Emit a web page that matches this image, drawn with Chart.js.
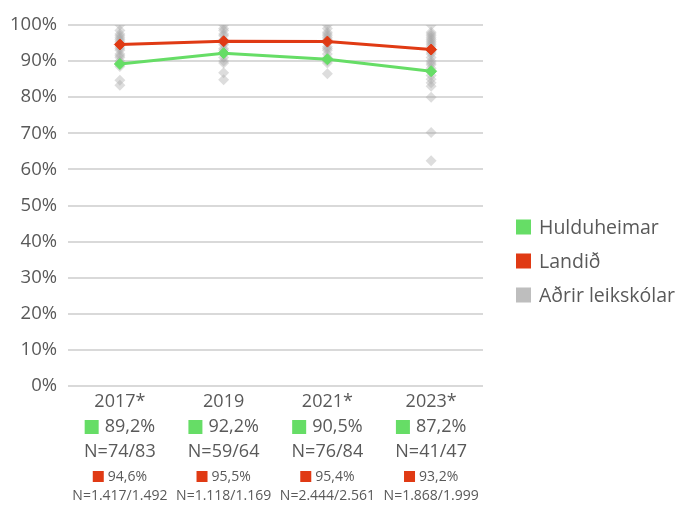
<!DOCTYPE html>
<html>
<head>
<meta charset="utf-8">
<script src="https://cdn.jsdelivr.net/npm/chart.js@4"></script>
<style>
  html, body { margin: 0; padding: 0; background: #fff; }
  #wrap { width: 678px; height: 507px; }
</style>
</head>
<body>
<div id="wrap"><canvas id="chart" width="678" height="507"></canvas></div>
<script>
// data
var years = ['2017*', '2019', '2021*', '2023*'];
var hulduheimar = [89.2, 92.2, 90.5, 87.2];
var hulduheimarN = ['74/83', '59/64', '76/84', '41/47'];
var landid = [94.6, 95.5, 95.4, 93.2];
var landidN = ['1.417/1.492', '1.118/1.169', '2.444/2.561', '1.868/1.999'];
var yTicks = [0, 10, 20, 30, 40, 50, 60, 70, 80, 90, 100];

// other preschools, one list per year
var adrir2017 = [100, 98.5, 97.5, 97, 96.5, 96, 95.5, 95, 94, 93.5, 93, 92, 91.5, 91, 90, 89.5, 88.5, 84.7, 83.3];
var adrir2019 = [100, 99, 98.5, 97.5, 97, 96, 95, 94.5, 93.5, 93, 92, 91, 90, 89.5, 86.8, 84.8];
var adrir2021 = [100, 99, 98, 97.5, 97, 96.5, 96, 95, 94, 93.5, 93, 92, 91, 90, 89.5, 86.5];
var adrir2023 = [100, 98, 97.5, 97, 96.5, 96, 95.5, 95, 94.5, 94, 93, 92.5, 92, 91, 90, 89.5, 89, 88, 87, 86, 85, 84, 83, 80, 70.2, 62.4];

var green = 'rgb(102,221,102)';
var red = 'rgb(224,58,20)';
var grey = 'rgba(165,165,165,0.38)';
var textColor = '#595959';
var font = '"Open Sans", Lato, sans-serif';

var adrirPoints = [];
[adrir2017, adrir2019, adrir2021, adrir2023].forEach(function (list, i) {
  list.forEach(function (v) {
    adrirPoints.push({ x: years[i], y: v });
  });
});

function pct(v) {
  return v.toFixed(1).replace('.', ',') + '%';
}

// labels under each year
var bottomLabels = {
  id: 'bottomLabels',
  afterDraw: function (chart) {
    var ctx = chart.ctx;
    var xs = chart.scales.x;
    ctx.save();
    ctx.textBaseline = 'middle';
    for (var i = 0; i < years.length; i++) {
      var x = xs.getPixelForTick(i);
      ctx.fillStyle = textColor;
      ctx.textAlign = 'center';
      ctx.font = '18px ' + font;
      ctx.fillText(years[i], x, 402);
      ctx.fillText('N=' + hulduheimarN[i], x, 452);

      // green value with square
      var t = pct(hulduheimar[i]);
      var w = ctx.measureText(t).width;
      var total = 14 + 6 + w;
      var left = x - total / 2;
      ctx.fillStyle = green;
      ctx.fillRect(left, 420, 14, 14);
      ctx.fillStyle = textColor;
      ctx.textAlign = 'left';
      ctx.fillText(t, left + 20, 427);

      // red value with square
      ctx.font = '14px ' + font;
      t = pct(landid[i]);
      w = ctx.measureText(t).width;
      total = 11 + 4 + w;
      left = x - total / 2;
      ctx.fillStyle = red;
      ctx.fillRect(left, 471, 11, 11);
      ctx.fillStyle = textColor;
      ctx.fillText(t, left + 15, 477);
      ctx.textAlign = 'center';
      ctx.fillText('N=' + landidN[i], x, 496);
    }
    ctx.restore();
  }
};

// legend on the right
var sideLegend = {
  id: 'sideLegend',
  afterDraw: function (chart) {
    var ctx = chart.ctx;
    var left = chart.chartArea.right + 33;
    ctx.save();
    ctx.font = '19.5px ' + font;
    ctx.textBaseline = 'middle';
    ctx.textAlign = 'left';
    chart.data.datasets.forEach(function (ds, i) {
      var y = 227 + i * 34;
      ctx.fillStyle = ds.legendColor;
      ctx.fillRect(left, y - 7.5, 15, 15);
      ctx.fillStyle = textColor;
      ctx.fillText(ds.label, left + 23, y + 1);
    });
    ctx.restore();
  }
};

new Chart(document.getElementById('chart').getContext('2d'), {
  type: 'line',
  data: {
    labels: years,
    datasets: [{
      label: 'Hulduheimar',
      data: hulduheimar,
      borderColor: green,
      backgroundColor: green,
      legendColor: green,
      borderWidth: 3,
      pointStyle: 'rectRot',
      pointRadius: 5.5,
      pointBorderWidth: 1,
      tension: 0
    }, {
      label: 'Landið',
      data: landid,
      borderColor: red,
      backgroundColor: red,
      legendColor: red,
      borderWidth: 3,
      pointStyle: 'rectRot',
      pointRadius: 5.5,
      pointBorderWidth: 1,
      tension: 0
    }, {
      label: 'Aðrir leikskólar',
      data: adrirPoints,
      showLine: false,
      backgroundColor: grey,
      borderColor: 'rgba(0,0,0,0)',
      legendColor: 'rgb(190,190,190)',
      pointStyle: 'rectRot',
      pointRadius: 5.5,
      pointBorderWidth: 0
    }]
  },
  options: {
    responsive: false,
    animation: false,
    layout: { padding: { top: 25, right: 195, left: 0, bottom: 0 } },
    plugins: {
      legend: { display: false },
      tooltip: { enabled: false }
    },
    scales: {
      x: {
        type: 'category',
        offset: true,
        grid: { display: false },
        border: { display: false },
        ticks: { display: false },
        afterFit: function (scale) { scale.height = 121; }
      },
      y: {
        min: 0,
        max: 100,
        afterBuildTicks: function (scale) {
          scale.ticks = yTicks.map(function (v) { return { value: v }; });
        },
        afterFit: function (scale) { scale.width = 68; },
        grid: { color: '#d9d9d9', lineWidth: 2, drawTicks: false },
        border: { display: false },
        ticks: {
          padding: 11,
          color: textColor,
          font: { family: font, size: 18.5 },
          callback: function (v) { return v + '%'; }
        }
      }
    }
  },
  plugins: [bottomLabels, sideLegend]
});
</script>
</body>
</html>
